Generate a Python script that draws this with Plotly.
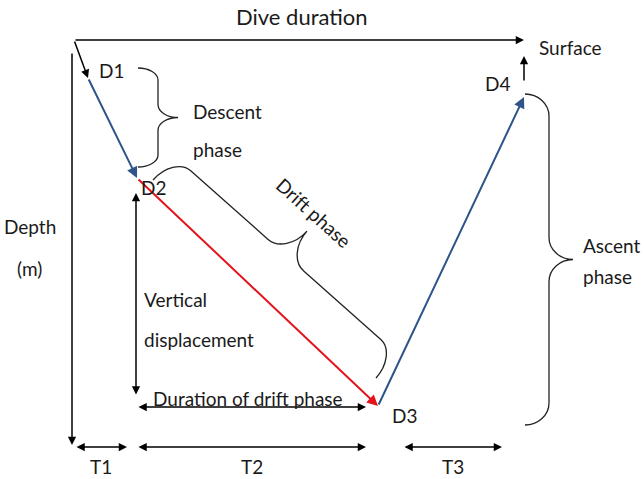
import numpy as np
import plotly.graph_objects as go

# ---- Schematic data (chart units: x = elapsed time, y = depth, both arbitrary) ----
surface_start = [74, 40]          # dive start at the surface
surface_end_time = 524            # end of "Dive duration" axis
depth_axis_bottom = 445           # end of "Depth (m)" axis

dive_labels = ["D1", "D2", "D3", "D4"]
dive_time = [88, 137, 378, 524]
dive_depth = [78, 178, 406, 97]
segment_colors = ["#2E5489", "#E3141B", "#2E5489"]
label_time = [111, 153, 404, 497]
label_depth = [70, 187, 415, 83]

phase_labels = ["T1", "T2", "T3"]
phase_start = [75, 137, 403]
phase_end = [127, 366, 502]
phase_row = 447

drift_span_row = 407
vertical_span = [193, 396]
vertical_span_x = 136

# Braces: start point, end point, half-width, end radius, tip radius
braces = [
    dict(p0=(138, 68), p1=(138, 167), h=20, r=12, rt=13),       # descent
    dict(p0=(153, 180), p1=(376, 378), h=32, r=22, rt=24),      # drift
    dict(p0=(525, 94), p1=(525, 425), h=24, r=22, rt=22),       # ascent
]

FONT = "Lato"
TXT = "#1a1a1a"
FS = 19
W, H = 644, 479

fig = go.Figure()
fig.add_trace(go.Scatter(x=[0, W], y=[0, H], mode="markers",
                         marker=dict(opacity=0), hoverinfo="skip", showlegend=False))


def arrow(x0, y0, x1, y1, color="black", width=1.5, both=False, size=1.1):
    fig.add_annotation(x=x1, y=y1, ax=x0, ay=y0, xref="x", yref="y",
                       axref="x", ayref="y", text="", showarrow=True,
                       arrowhead=2, startarrowhead=2, arrowsize=size,
                       startarrowsize=size, arrowwidth=width,
                       arrowcolor=color, standoff=0, startstandoff=0,
                       arrowside="end+start" if both else "end")


def label(x, y, t, size=FS, xanchor="center", angle=0):
    fig.add_annotation(x=x, y=y, xref="x", yref="y", text=t, showarrow=False,
                       xanchor=xanchor, yanchor="middle", textangle=angle,
                       font=dict(family=FONT, size=size, color=TXT))


# axes of the diagram
arrow(surface_start[0], surface_start[1], surface_end_time, surface_start[1])
arrow(72, 52, 72, depth_axis_bottom)

# dive path
arrow(surface_start[0], surface_start[1], dive_time[0], dive_depth[0])
for i in range(3):
    arrow(dive_time[i], dive_depth[i], dive_time[i + 1], dive_depth[i + 1],
          color=segment_colors[i], width=2)

# surfacing arrow
arrow(dive_time[3], 82, dive_time[3], 56)

# vertical displacement and drift duration
arrow(vertical_span_x, vertical_span[1], vertical_span_x, vertical_span[0], both=True)
arrow(dive_time[1], drift_span_row, 366, drift_span_row, both=True)

# phase durations
for s, e in zip(phase_start, phase_end):
    arrow(s, phase_row, e, phase_row, both=True)


def brace_path(p0, p1, h, r, rt):
    p0 = np.array(p0, float)
    p1 = np.array(p1, float)
    L = np.linalg.norm(p1 - p0)
    d = (p1 - p0) / L
    n = np.array([d[1], -d[0]])
    m = L / 2

    def P(u, v):
        q = p0 + u * d + v * n
        return f"{q[0]:.2f},{q[1]:.2f}"
    k = 0.55
    return (f"M {P(0,0)} C {P(0,k*h)} {P((1-k)*r,h)} {P(r,h)} "
            f"L {P(m-rt,h)} C {P(m-(1-k)*rt,h)} {P(m,2*h-k*h)} {P(m,2*h)} "
            f"C {P(m,2*h-k*h)} {P(m+(1-k)*rt,h)} {P(m+rt,h)} "
            f"L {P(L-r,h)} C {P(L-(1-k)*r,h)} {P(L,k*h)} {P(L,0)}")


for b in braces:
    fig.add_shape(type="path", path=brace_path(b["p0"], b["p1"], b["h"], b["r"], b["rt"]),
                  xref="x", yref="y", line=dict(color="#222222", width=1.3))

# texts
label(302, 16, "Dive duration", size=22)
label(537, 47, "Surface", xanchor="left")
for t, x, y in zip(dive_labels, label_time, label_depth):
    label(x, y, t)
label(191, 111, "Descent", xanchor="left")
label(191, 149, "phase", xanchor="left")
label(314, 212, "Drift phase", angle=42)
label(30, 226, "Depth")
label(29, 268, "(m)")
label(142, 299, "Vertical", xanchor="left")
label(142, 339, "displacement", xanchor="left")
label(581, 245, "Ascent", xanchor="left")
label(581, 276, "phase", xanchor="left")
label(151, 398, "Duration of drift phase", xanchor="left")
for t, s, e in zip(phase_labels, phase_start, phase_end):
    label((s + e) / 2, 466, t)

fig.update_layout(
    width=W, height=H, autosize=False,
    margin=dict(l=0, r=0, t=0, b=0),
    paper_bgcolor="white", plot_bgcolor="white",
    xaxis=dict(range=[0, W], visible=False, fixedrange=True),
    yaxis=dict(range=[H, 0], visible=False, fixedrange=True),
    showlegend=False,
)

# remove the default 8px page margin so the figure sits at the window's corner
fig.write_html("out.html", config={"displayModeBar": False},
               post_script="document.body.style.margin='0';document.body.style.overflow='hidden';")
